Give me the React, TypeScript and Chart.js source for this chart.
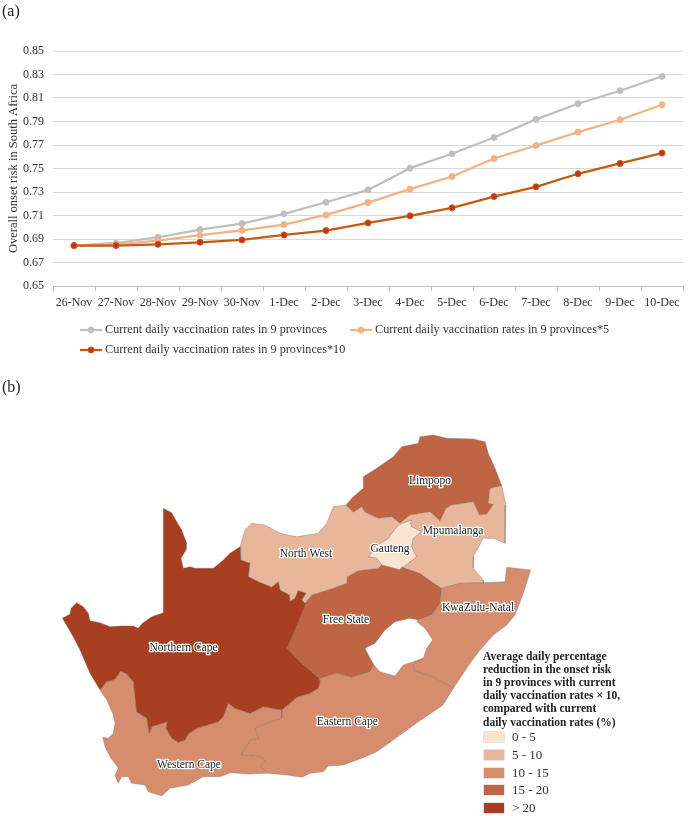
import React, { useEffect, useRef } from "react";
import { Chart, registerables } from "chart.js";

Chart.register(...registerables);

const dates = ["26-Nov","27-Nov","28-Nov","29-Nov","30-Nov","1-Dec","2-Dec","3-Dec","4-Dec","5-Dec","6-Dec","7-Dec","8-Dec","9-Dec","10-Dec"];
const rateBase = [0.6844,0.6866,0.6915,0.698,0.7031,0.7114,0.7213,0.7318,0.7503,0.7625,0.7764,0.7918,0.8051,0.8162,0.8284];
const rateX5 = [0.6844,0.6855,0.6886,0.6932,0.6974,0.7023,0.7105,0.721,0.7324,0.7432,0.7585,0.7696,0.781,0.7915,0.8043];
const rateX10 = [0.6844,0.6844,0.6855,0.6872,0.6892,0.6935,0.6972,0.7037,0.7097,0.7165,0.7261,0.7344,0.7455,0.7543,0.7631];
const seriesNames = ["Current daily vaccination rates in 9 provinces","Current daily vaccination rates in 9 provinces*5","Current daily vaccination rates in 9 provinces*10"];
const yAxisTitle = "Overall onset risk in South Africa";

// Province outlines, in map units
type P = [number, number];
const northernCape: P[] = [[163.3,508.3],[171.7,512.7],[176.7,521.7],[181.7,530],[186.7,543.3],[186,550],[181,558.3],[183.3,568.3],[190,566.7],[195,568.3],[213.3,568.3],[223.3,560],[230,553.3],[240,546.7],[240.7,560],[250,563.3],[248.3,576.7],[258.3,581.7],[271.7,587.3],[278.3,581.7],[280,590],[289.3,595],[290,601.7],[295,598.3],[298.3,590.7],[306,593.3],[301.7,600],[305,603.3],[306,602.7],[295,630],[287.3,648.3],[300,661.7],[319.3,678.3],[320,681.7],[318.3,688.3],[310,693.3],[296.7,697.3],[291.7,701.7],[281.7,710],[263.3,706.7],[250,713.3],[235,708.3],[228.3,703.3],[223.3,716.7],[218.3,721.7],[196.7,728.3],[188.3,734],[185,740],[178.3,742.3],[171.7,738.3],[166,728.3],[167.3,721.7],[151.7,726.7],[149.3,733.3],[146.7,718.3],[136.7,711.7],[135,696.7],[133.3,681.7],[126.7,674],[120.7,671],[115,679.3],[106.7,681.7],[100,690],[90,673.3],[80,650],[75,640],[68.3,628.3],[62.3,618.3],[70,614],[71,608.3],[76.7,602.7],[83.3,606.7],[88.3,613.3],[90,620.7],[100,622.7],[110,626.7],[120,626],[133.3,626],[138.3,628.3],[142.3,623.3],[151.7,616.7],[163.3,612.7]];
const westernCape: P[] = [[100,690],[106.7,681.7],[115,679.3],[120.7,671],[126.7,674],[133.3,681.7],[135,696.7],[136.7,711.7],[146.7,718.3],[149.3,733.3],[151.7,726.7],[167.3,721.7],[166,728.3],[171.7,738.3],[178.3,742.3],[185,740],[188.3,734],[196.7,728.3],[218.3,721.7],[223.3,716.7],[228.3,703.3],[235,708.3],[250,713.3],[263.3,706.7],[281.7,710],[281.7,718.3],[270,721.7],[255,728.3],[258.3,738.3],[250,740],[241,755],[260,756.7],[265,760],[260,766.7],[268.3,773.3],[248,774],[240,773.3],[230,772.7],[220,776.7],[203.3,776.7],[188.3,785],[170,788.3],[161.7,796],[148.3,791.7],[145,785],[131.7,783.3],[128.3,776.7],[121.7,776.7],[118.3,783.3],[115,775],[118.3,768.3],[110,756.7],[105,746.7],[102.7,737.3],[108.3,738.3],[113.3,733.3],[115,723.3],[112.7,713.3],[106.7,700]];
const easternCape: P[] = [[319.3,678.3],[321.7,678],[336.7,673.3],[351.7,677.3],[370,671.7],[374,665],[380,671.7],[395,676],[403.3,665],[413.3,661.7],[423.3,658.3],[413.3,664],[414,671],[433.3,677],[453.3,688.3],[443,705],[418,722],[400,735],[393.3,740],[376.7,751.7],[361.7,758.3],[343.3,765],[328.3,766],[323.3,771.7],[310,773.3],[301.7,777.3],[286.7,775],[268.3,773.3],[260,766.7],[265,760],[260,756.7],[241,755],[250,740],[258.3,738.3],[255,728.3],[270,721.7],[281.7,718.3],[281.7,710],[291.7,701.7],[296.7,697.3],[310,693.3],[318.3,688.3],[320,681.7]];
const northWest: P[] = [[240,546.7],[245,530],[251.7,523.3],[265,525],[280,533.3],[296.7,536.7],[318.3,533.3],[326.7,523.3],[333.3,506.7],[346,505],[353.3,512.3],[361.7,506.7],[365,512.3],[378.3,518.3],[391.7,516.7],[400,523.3],[396.7,526.7],[388.3,538.3],[380,543.3],[368.3,556.7],[376.7,558.3],[381.7,565],[378.3,568.3],[358.3,570.7],[347.3,576.7],[346.7,583.3],[330,589.3],[311.7,595],[305,603.3],[301.7,600],[306,593.3],[298.3,590.7],[295,598.3],[290,601.7],[289.3,595],[280,590],[278.3,581.7],[271.7,587.3],[258.3,581.7],[248.3,576.7],[250,563.3],[240.7,560]];
const limpopo: P[] = [[346,505],[353.3,496.7],[363.3,488.3],[363.3,476.7],[376.7,468.3],[393.3,456.7],[401.7,446.7],[418.3,443.3],[420,436.7],[433.3,435],[446.7,438.3],[473.3,439],[485,441.7],[488.3,453.3],[495,468.3],[501.7,485.7],[490,488.3],[488.3,503.3],[493.3,504.3],[486.7,514.3],[479.3,515],[473.3,501.7],[451.7,505],[446,508.3],[440,521],[430,511.7],[415,514.3],[410,515],[400,523.3],[391.7,516.7],[378.3,518.3],[365,512.3],[361.7,506.7],[353.3,512.3]];
const mpumalanga: P[] = [[501.7,485.7],[506,505],[505,543.3],[493.3,538.3],[483.3,538.3],[473.3,556.7],[473.3,568.3],[483.3,580],[483.3,582.7],[460,583.3],[441.7,588.3],[431.7,581.7],[420,573.3],[401.7,567],[400,570],[416.7,556.7],[411.7,546.7],[413.3,538.3],[421.7,531.7],[411.7,526.7],[410.7,523.3],[411.7,520],[403.3,522.7],[400,523.3],[410,515],[415,514.3],[430,511.7],[440,521],[446,508.3],[451.7,505],[473.3,501.7],[479.3,515],[486.7,514.3],[493.3,504.3],[488.3,503.3],[490,488.3]];
const gauteng: P[] = [[411.7,520],[403.3,522.7],[396.7,526.7],[388.3,538.3],[380,543.3],[368.3,556.7],[376.7,558.3],[381.7,565],[400,570],[416.7,556.7],[411.7,546.7],[413.3,538.3],[421.7,531.7],[411.7,526.7],[410.7,523.3]];
const freeState: P[] = [[305,603.3],[311.7,595],[330,589.3],[346.7,583.3],[347.3,576.7],[358.3,570.7],[378.3,568.3],[381.7,565],[400,570],[401.7,567],[420,573.3],[431.7,581.7],[441.7,588.3],[440,603.3],[431.7,615],[418.3,620],[410,618.3],[395,621.7],[385,630],[375,643.3],[365,648.3],[368.3,655],[374,665],[370,671.7],[351.7,677.3],[336.7,673.3],[321.7,678],[319.3,678.3],[300,661.7],[287.3,648.3],[295,630]];
const kwazulu: P[] = [[441.7,588.3],[460,583.3],[483.3,582.7],[505,581.7],[506.7,567.3],[530.7,570],[523.3,593.3],[515,615],[506.7,625],[493.3,635],[480,650],[470,663.3],[453.3,688.3],[433.3,677],[414,671],[413.3,664],[423.3,658.3],[426.7,648.3],[432.7,640],[425,628.3],[416.7,621.7],[418.3,620],[431.7,615],[440,603.3]];

const binLabels = ["0 - 5","5 - 10","10 - 15","15 - 20","> 20"];
const binColors = ["#F9E5CF","#E8B79B","#D68D6E","#C06544","#A83F21"];

const provinces: { name: string; outline: P[]; bin: number; label: P }[] = [
  { name: "Northern Cape", outline: northernCape, bin: 4, label: [183.5,648] },
  { name: "Western Cape", outline: westernCape, bin: 2, label: [189,765.3] },
  { name: "Eastern Cape", outline: easternCape, bin: 2, label: [347.3,721.7] },
  { name: "KwaZulu-Natal", outline: kwazulu, bin: 2, label: [478,608.3] },
  { name: "North West", outline: northWest, bin: 1, label: [306,554.3] },
  { name: "Mpumalanga", outline: mpumalanga, bin: 1, label: [453,531] },
  { name: "Limpopo", outline: limpopo, bin: 3, label: [430,481] },
  { name: "Free State", outline: freeState, bin: 3, label: [346,620] },
  { name: "Gauteng", outline: gauteng, bin: 0, label: [390,549] },
];

const legendTitle = ["Average daily percentage","reduction in the onset risk","in 9 provinces with current","daily vaccination rates × 10,","compared with current","daily vaccination rates (%)"];

const SERIF = '"Liberation Serif", "Times New Roman", serif';
const INK = "#333333";

const lineLegend = {
  id: "lineLegend",
  afterDraw(chart: any) {
    const { ctx } = chart;
    const slots = [[80,330],[350,330],[80,350]];
    ctx.save();
    ctx.font = `12.2px ${SERIF}`;
    ctx.textBaseline = "middle";
    chart.data.datasets.forEach((d: any, i: number) => {
      const [x, y] = slots[i];
      ctx.strokeStyle = d.borderColor;
      ctx.lineWidth = 2.25;
      ctx.beginPath();
      ctx.moveTo(x, y);
      ctx.lineTo(x + 22, y);
      ctx.stroke();
      ctx.fillStyle = d.pointBackgroundColor;
      ctx.strokeStyle = d.pointBorderColor;
      ctx.lineWidth = 1;
      ctx.beginPath();
      ctx.arc(x + 11, y, 3, 0, Math.PI * 2);
      ctx.fill();
      ctx.stroke();
      ctx.fillStyle = INK;
      ctx.fillText(d.label, x + 25, y);
    });
    ctx.restore();
  },
};

const mapLabels = {
  id: "mapLabels",
  afterDraw(chart: any) {
    const { ctx, scales } = chart;
    ctx.save();
    ctx.font = `11.5px ${SERIF}`;
    ctx.textAlign = "center";
    ctx.textBaseline = "middle";
    ctx.lineJoin = "round";
    provinces.forEach((p) => {
      const x = scales.x.getPixelForValue(p.label[0]);
      const y = scales.y.getPixelForValue(p.label[1]);
      ctx.strokeStyle = "#ffffff";
      ctx.lineWidth = 2.5;
      ctx.strokeText(p.name, x, y);
      ctx.fillStyle = "#222222";
      ctx.fillText(p.name, x, y);
    });
    ctx.restore();
  },
};

export default function App() {
  const lineRef = useRef<HTMLCanvasElement>(null);
  const mapRef = useRef<HTMLCanvasElement>(null);

  useEffect(() => {
    const tickFont = { family: SERIF, size: 12 };
    const line = new Chart(lineRef.current!, {
      type: "line",
      data: {
        labels: dates,
        datasets: [
          { label: seriesNames[0], data: rateBase, borderColor: "#BFBFBF", pointBackgroundColor: "#BFBFBF", pointBorderColor: "#BFBFBF", order: 3 },
          { label: seriesNames[1], data: rateX5, borderColor: "#F4B183", pointBackgroundColor: "#F4B183", pointBorderColor: "#F4B183", order: 2 },
          { label: seriesNames[2], data: rateX10, borderColor: "#C55A11", pointBackgroundColor: "#C8321A", pointBorderColor: "#C55A11", order: 1 },
        ].map((d) => ({ ...d, borderWidth: 2.25, pointRadius: 3, pointBorderWidth: 1, tension: 0 })),
      },
      options: {
        animation: false,
        responsive: false,
        layout: { padding: { top: 51, right: 3, left: 0, bottom: 0 } },
        plugins: { legend: { display: false }, tooltip: { enabled: false } },
        scales: {
          x: {
            offset: true,
            grid: { display: true, drawOnChartArea: false, drawTicks: true, tickLength: 5, color: "#BFBFBF", offset: true },
            border: { color: "#BFBFBF" },
            ticks: { font: tickFont, color: INK, maxRotation: 0, autoSkip: false, padding: 5 },
            afterFit: (s: any) => { s.height = 84; },
          },
          y: {
            min: 0.65,
            max: 0.85,
            grid: { color: "#D9D9D9", drawTicks: false },
            border: { display: false },
            ticks: { stepSize: 0.02, font: tickFont, color: INK, padding: 9, callback: (v: any) => Number(v).toFixed(2) },
            title: { display: true, text: yAxisTitle, font: { family: SERIF, size: 12.5 }, color: INK, padding: { top: 6, bottom: 0 } },
            afterFit: (s: any) => { s.width = 53; },
          },
        },
      },
      plugins: [lineLegend],
    } as any);

    const map = new Chart(mapRef.current!, {
      type: "scatter",
      data: {
        datasets: provinces.map((p) => ({
          label: p.name,
          data: [...p.outline, p.outline[0]].map(([x, y]) => ({ x, y })),
          showLine: true,
          fill: "shape",
          backgroundColor: binColors[p.bin],
          borderColor: "rgba(120,110,105,0.6)",
          borderWidth: 0.6,
          pointRadius: 0,
          tension: 0,
        })),
      },
      options: {
        animation: false,
        responsive: false,
        layout: { padding: 0 },
        plugins: { legend: { display: false }, tooltip: { enabled: false } },
        scales: {
          x: { type: "linear", display: false, min: 50, max: 688 },
          y: { type: "linear", display: false, min: 425, max: 816, reverse: true },
        },
      },
      plugins: [mapLabels],
    } as any);

    return () => {
      line.destroy();
      map.destroy();
    };
  }, []);

  const abs = (left: number, top: number): React.CSSProperties => ({ position: "absolute", left, top });

  return (
    <div style={{ position: "absolute", left: 0, top: 0, width: 688, height: 816, overflow: "hidden", background: "#fff", fontFamily: SERIF, color: "#222" }}>
      <canvas ref={lineRef} width={688} height={370} style={{ ...abs(0, 0), width: 688, height: 370 }} />
      <canvas ref={mapRef} width={638} height={391} style={{ ...abs(50, 425), width: 638, height: 391 }} />
      <div style={{ ...abs(2, 1), fontSize: 16, lineHeight: "20px" }}>(a)</div>
      <div style={{ ...abs(2, 377), fontSize: 16, lineHeight: "20px" }}>(b)</div>
      {legendTitle.map((t, i) => (
        <div key={t} style={{ ...abs(483, 649.5 + i * 13.2), fontSize: 11.5, lineHeight: "13px", fontWeight: 700, whiteSpace: "nowrap" }}>{t}</div>
      ))}
      {binLabels.map((t, i) => (
        <React.Fragment key={t}>
          <div style={{ ...abs(484, 732 + i * 17.8), width: 20, height: 10, background: binColors[i], boxShadow: "0 0 0 0.5px #cfc8c4" }} />
          <div style={{ ...abs(512, 729 + i * 17.8), fontSize: 13, lineHeight: "16px", color: "#333", whiteSpace: "nowrap" }}>{t}</div>
        </React.Fragment>
      ))}
    </div>
  );
}
